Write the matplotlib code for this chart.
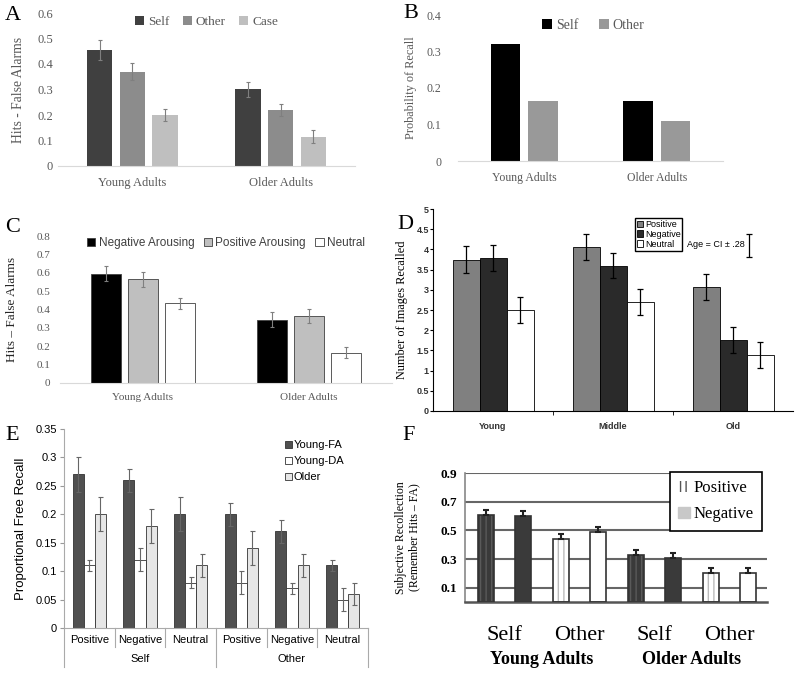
import matplotlib
matplotlib.use('Agg')
import matplotlib.pyplot as plt
import numpy as np
from matplotlib.patches import Patch
from matplotlib import transforms

SERIF = 'Liberation Serif'
SANS = 'Liberation Sans'

# ---- data ----
# A
a_groups = ['Young Adults', 'Older Adults']
a_names = ['Self', 'Other', 'Case']
a_vals = [[0.455, 0.30], [0.37, 0.22], [0.20, 0.115]]
a_errs = [[0.04, 0.03], [0.033, 0.025], [0.025, 0.025]]
a_cols = ['#404040', '#8c8c8c', '#bfbfbf']

# B
b_groups = ['Young Adults', 'Older Adults']
b_names = ['Self', 'Other']
b_vals = [[0.32, 0.165], [0.165, 0.11]]
b_cols = ['#000000', '#999999']

# C
c_groups = ['Young Adults', 'Older Adults']
c_names = ['Negative Arousing', 'Positive Arousing', 'Neutral']
c_vals = [[0.595, 0.345], [0.565, 0.365], [0.435, 0.165]]
c_errs = [[0.04, 0.04], [0.04, 0.04], [0.03, 0.03]]
c_cols = ['#000000', '#bfbfbf', '#ffffff']

# D
d_groups = ['Young', 'Middle', 'Old']
d_names = ['Positive', 'Negative', 'Neutral']
d_vals = [[3.75, 4.05, 3.07], [3.78, 3.6, 1.75], [2.5, 2.7, 1.38]]
d_errs = [[0.33, 0.32, 0.32], [0.32, 0.32, 0.32], [0.32, 0.32, 0.32]]
d_cols = ['#808080', '#2a2a2a', '#ffffff']
d_ci = 0.28

# E
e_cats = ['Positive', 'Negative', 'Neutral', 'Positive', 'Negative', 'Neutral']
e_outer = ['Self', 'Other']
e_names = ['Young-FA', 'Young-DA', 'Older']
e_vals = [[0.27, 0.26, 0.20, 0.20, 0.17, 0.11],
          [0.11, 0.12, 0.08, 0.08, 0.07, 0.05],
          [0.20, 0.18, 0.11, 0.14, 0.11, 0.06]]
e_errs = [[0.03, 0.02, 0.03, 0.02, 0.02, 0.01],
          [0.01, 0.02, 0.01, 0.02, 0.01, 0.02],
          [0.03, 0.03, 0.02, 0.03, 0.02, 0.02]]
e_cols = ['#505050', '#ffffff', '#e6e6e6']

# F
f_cats = ['Self', 'Other', 'Self', 'Other']
f_outer = ['Young Adults', 'Older Adults']
f_vals = [0.61, 0.60, 0.44, 0.49, 0.33, 0.31, 0.20, 0.20]
f_errs = [0.035, 0.035, 0.035, 0.035, 0.035, 0.035, 0.035, 0.035]
f_names = ['Positive', 'Negative']

W, H = 800, 675
fig = plt.figure(figsize=(8, 6.75), dpi=100)


def place(left, top, right, bottom):
    return fig.add_axes([left / W, 1 - bottom / H, (right - left) / W, (bottom - top) / H])


def letter(x, y, s):
    fig.text(x / W, 1 - y / H, s, family=SERIF, fontsize=16, va='center', ha='left')


def fmt(v):
    return '0' if v == 0 else ('%g' % v)


# ---------------- A ----------------
axA = place(58, 13, 355, 166)
x = np.arange(2)
for i in range(3):
    axA.bar(x + (i - 1) * 0.22, a_vals[i], 0.17, color=a_cols[i], label=a_names[i],
            yerr=a_errs[i], ecolor='#7f7f7f', capsize=1.5, error_kw=dict(lw=0.8, capthick=0.8))
axA.set_xlim(-0.5, 1.5)
axA.set_ylim(0, 0.6)
axA.set_yticks(np.arange(0, 0.61, 0.1))
axA.set_yticklabels([fmt(round(v, 1)) for v in np.arange(0, 0.61, 0.1)])
axA.set_xticks(x)
axA.set_xticklabels(a_groups)
for s in ['top', 'right', 'left']:
    axA.spines[s].set_visible(False)
axA.spines['bottom'].set_color('#d9d9d9')
axA.tick_params(length=0, labelsize=9, labelcolor='#595959')
axA.tick_params(axis='x', pad=8)
for t in axA.get_xticklabels() + axA.get_yticklabels():
    t.set_family(SERIF)
axA.set_ylabel('Hits - False Alarms', family=SERIF, fontsize=9.8, color='#595959')
axA.yaxis.set_label_coords((25 - 58) / 297, 0.5)
axA.legend(loc='upper center', bbox_to_anchor=(0.5, 1.06), ncol=3, frameon=False,
           handlelength=0.7, handleheight=0.7, handletextpad=0.3, columnspacing=1.0,
           prop=dict(family=SERIF, size=9.5), labelcolor='#595959')
letter(5, 15, 'A')

# ---------------- B ----------------
axB = place(458, 15, 723, 161)
for i in range(2):
    axB.bar(x + (i - 0.5) * 0.283, b_vals[i], 0.226, color=b_cols[i], label=b_names[i])
axB.set_xlim(-0.5, 1.5)
axB.set_ylim(0, 0.4)
axB.set_yticks([0, 0.1, 0.2, 0.3, 0.4])
axB.set_yticklabels(['0', '0.1', '0.2', '0.3', '0.4'])
axB.set_xticks(x)
axB.set_xticklabels(b_groups)
for s in ['top', 'right', 'left']:
    axB.spines[s].set_visible(False)
axB.spines['bottom'].set_color('#d9d9d9')
axB.tick_params(length=0, labelsize=8.5, labelcolor='#595959')
axB.tick_params(axis='y', pad=12)
axB.tick_params(axis='x', pad=8)
for t in axB.get_xticklabels() + axB.get_yticklabels():
    t.set_family(SERIF)
axB.set_ylabel('Probability of Recall', family=SERIF, fontsize=8.8, color='#595959')
axB.yaxis.set_label_coords((417 - 458) / 265, 0.5)
axB.legend(loc='upper center', bbox_to_anchor=(0.51, 1.06), ncol=2, frameon=False,
           handlelength=0.7, handleheight=0.7, handletextpad=0.3, columnspacing=1.5,
           prop=dict(family=SERIF, size=10), labelcolor='#595959')
letter(403, 13, 'B')

# ---------------- C ----------------
axC = place(60, 236, 392, 383)
for i in range(3):
    axC.bar(x + (i - 1) * 0.223, c_vals[i], 0.175, color=c_cols[i], label=c_names[i],
            edgecolor='#404040', linewidth=0.6,
            yerr=c_errs[i], ecolor='#7f7f7f', capsize=1.5, error_kw=dict(lw=0.8, capthick=0.8))
axC.set_xlim(-0.5, 1.5)
axC.set_ylim(0, 0.8)
cy = np.arange(0, 0.81, 0.1)
axC.set_yticks(cy)
axC.set_yticklabels([fmt(round(v, 1)) for v in cy])
axC.set_xticks(x)
axC.set_xticklabels(c_groups)
for s in ['top', 'right', 'left']:
    axC.spines[s].set_visible(False)
axC.spines['bottom'].set_color('#d9d9d9')
axC.tick_params(length=0, labelsize=8, labelcolor='#595959')
axC.tick_params(axis='y', pad=7)
axC.tick_params(axis='x', pad=7)
for t in axC.get_xticklabels() + axC.get_yticklabels():
    t.set_family(SERIF)
axC.set_ylabel('Hits \u2013 False Alarms', family=SERIF, fontsize=9.5, color='#262626')
axC.yaxis.set_label_coords((18 - 60) / 332, 0.5)
axC.legend(loc='upper center', bbox_to_anchor=(0.5, 1.065), ncol=3, frameon=False,
           handlelength=0.7, handleheight=0.7, handletextpad=0.3, columnspacing=0.8,
           prop=dict(family=SANS, size=8.5), labelcolor='#404040')
letter(5, 228, 'C')

# ---------------- D ----------------
axD = place(433, 209, 793, 411)
x3 = np.arange(3)
for i in range(3):
    axD.bar(x3 + (i - 1) * 0.225, d_vals[i], 0.225, color=d_cols[i], label=d_names[i],
            edgecolor='#000000', linewidth=0.6,
            yerr=d_errs[i], ecolor='#000000', capsize=2.5, error_kw=dict(lw=0.9, capthick=0.9))
axD.set_xlim(-0.5, 2.5)
axD.set_ylim(0, 5)
dy = np.arange(0, 5.01, 0.5)
axD.set_yticks(dy)
axD.set_yticklabels([fmt(v) for v in dy])
axD.set_xticks(x3)
axD.set_xticklabels(d_groups)
axD.set_xticks([0.5, 1.5], minor=True)
axD.tick_params(axis='x', which='major', length=0, pad=8)
axD.tick_params(axis='x', which='minor', length=3, direction='out')
axD.tick_params(axis='y', length=2, direction='out', pad=1)
axD.tick_params(labelsize=6.5)
for t in axD.get_xticklabels() + axD.get_yticklabels():
    t.set_family(SANS)
    t.set_fontweight('bold')
    t.set_color('#333333')
for s in ['top', 'right']:
    axD.spines[s].set_visible(False)
axD.set_ylabel('Number of Images Recalled', family=SERIF, fontsize=8.8)
axD.yaxis.set_label_coords((408 - 433) / 360, 0.5)
axD.legend(loc='upper left', bbox_to_anchor=(0.561, 0.955), frameon=True, fancybox=False,
           edgecolor='#000000', framealpha=1, borderpad=0.2, labelspacing=0.1,
           handlelength=0.7, handleheight=0.7, handletextpad=0.2, borderaxespad=0,
           prop=dict(family=SANS, size=6.5))
axD.text(1.62, 4.13, 'Age = CI \u00b1 .28', family=SANS, fontsize=6.5, va='center', ha='left')
axD.errorbar([2.135], [4.1], yerr=[d_ci], fmt='none', ecolor='#000000', capsize=2.5,
             lw=0.9, capthick=0.9)
letter(397, 225, 'D')

# ---------------- E ----------------
axE = place(64, 429, 368, 628)
x6 = np.arange(6) + 0.5
for i in range(3):
    axE.bar(x6 + (i - 1) * 0.22, e_vals[i], 0.22, color=e_cols[i], label=e_names[i],
            edgecolor='#333333', linewidth=0.6,
            yerr=e_errs[i], ecolor='#666666', capsize=1.8, error_kw=dict(lw=0.8, capthick=0.8))
axE.set_xlim(0, 6)
axE.set_ylim(0, 0.35)
ey = np.arange(0, 0.351, 0.05)
axE.set_yticks(ey)
axE.set_yticklabels([fmt(round(v, 2)) for v in ey])
axE.set_xticks(x6)
axE.set_xticklabels(e_cats)
axE.tick_params(axis='x', length=0, pad=5)
axE.tick_params(axis='y', length=3, direction='out', color='#999999', pad=2)
axE.tick_params(labelsize=8)
for t in axE.get_xticklabels() + axE.get_yticklabels():
    t.set_family(SANS)
for s in ['top', 'right']:
    axE.spines[s].set_visible(False)
axE.spines['left'].set_color('#aaaaaa')
axE.spines['bottom'].set_color('#aaaaaa')
tr = transforms.blended_transform_factory(axE.transData, axE.transAxes)
for xs in [0, 3, 6]:
    axE.plot([xs, xs], [0, -0.196], transform=tr, color='#aaaaaa', lw=0.8, clip_on=False)
for xs in [1, 2, 4, 5]:
    axE.plot([xs, xs], [0, -0.095], transform=tr, color='#aaaaaa', lw=0.8, clip_on=False)
axE.text(1.5, -0.155, e_outer[0], transform=tr, family=SANS, fontsize=8, ha='center', va='center')
axE.text(4.5, -0.155, e_outer[1], transform=tr, family=SANS, fontsize=8, ha='center', va='center')
axE.set_ylabel('Proportional Free Recall', family=SANS, fontsize=9.5)
axE.yaxis.set_label_coords((27 - 64) / 304, 0.5)
axE.legend(loc='upper left', bbox_to_anchor=(0.72, 0.955), frameon=False,
           borderpad=0.2, labelspacing=0.55, borderaxespad=0,
           handlelength=0.6, handleheight=0.6, handletextpad=0.2,
           prop=dict(family=SANS, size=8))
letter(5, 435, 'E')

# ---------------- F ----------------
axF = place(465, 473, 767, 602)
x8 = np.arange(8)
f_face = ['#3a3a3a', '#3a3a3a', '#ffffff', '#ffffff', '#3a3a3a', '#3a3a3a', '#ffffff', '#ffffff']
f_hatch_col = ['#5a5a5a', '#3a3a3a', '#bbbbbb', '#dddddd', '#5a5a5a', '#3a3a3a', '#bbbbbb', '#dddddd']
f_hatch = ['|||', None, '|||', None, '|||', None, '|||', None]
lim_x = 0.679 * 8.05 - 0.55
axF.hlines([0.9, 0.7, 0.5], -0.55, lim_x, color='#666666', lw=1.5, zorder=0)
axF.hlines([0.3, 0.1], -0.55, 7.5, color='#666666', lw=1.5, zorder=0)
for k in range(8):
    axF.bar(x8[k], f_vals[k], 0.43, color=f_face[k], hatch=f_hatch[k],
            edgecolor=f_hatch_col[k], linewidth=0, zorder=2)
    axF.bar(x8[k], f_vals[k], 0.43, fill=False, edgecolor='#333333', linewidth=1.2, zorder=3)
axF.errorbar(x8, f_vals, yerr=[np.zeros(8), f_errs], fmt='none', ecolor='#222222',
             capsize=2, lw=1.5, capthick=1.5, zorder=4)
axF.set_xlim(-0.55, 7.5)
axF.set_ylim(0, 0.9)
axF.set_yticks([0.1, 0.3, 0.5, 0.7, 0.9])
axF.set_yticklabels(['0.1', '0.3', '0.5', '0.7', '0.9'])
axF.tick_params(axis='y', length=0, pad=6, labelsize=9.5)
for t in axF.get_yticklabels():
    t.set_family(SERIF)
    t.set_fontweight('bold')
axF.set_xticks([0.5, 2.5, 4.5, 6.5])
axF.set_xticklabels(f_cats)
axF.tick_params(axis='x', length=0, pad=17, labelsize=16)
for t in axF.get_xticklabels():
    t.set_family(SERIF)
for s in ['top', 'right']:
    axF.spines[s].set_visible(False)
axF.spines['left'].set_color('#888888')
axF.spines['left'].set_linewidth(1.2)
axF.spines['bottom'].set_color('#555555')
axF.spines['bottom'].set_linewidth(1.8)
trF = transforms.blended_transform_factory(axF.transData, axF.transAxes)
axF.text(1.5, -(659 - 602) / 129, f_outer[0], transform=trF, family=SERIF, fontsize=13,
         fontweight='bold', ha='center', va='center')
axF.text(5.5, -(659 - 602) / 129, f_outer[1], transform=trF, family=SERIF, fontsize=13,
         fontweight='bold', ha='center', va='center')
axF.set_ylabel('Subjective Recollection\n(Remember Hits \u2013 FA)', family=SERIF,
               fontsize=8.5, linespacing=1.1)
axF.yaxis.set_label_coords((420 - 465) / 302, 0.5)
handles = [Patch(facecolor='#ffffff', edgecolor='#555555', hatch='|||', linewidth=0),
           Patch(facecolor='#c8c8c8', edgecolor='#c8c8c8')]
legF = axF.legend(handles, f_names, loc='upper left', bbox_to_anchor=(0.679, 1.008),
                  frameon=True, fancybox=False, edgecolor='#000000', framealpha=1,
                  borderpad=0.5, labelspacing=0.6, borderaxespad=0,
                  handlelength=0.7, handleheight=0.7, handletextpad=0.2,
                  prop=dict(family=SERIF, size=12))
legF.get_frame().set_linewidth(1.2)
letter(402, 435, 'F')

fig.savefig('out.png', dpi=100)
